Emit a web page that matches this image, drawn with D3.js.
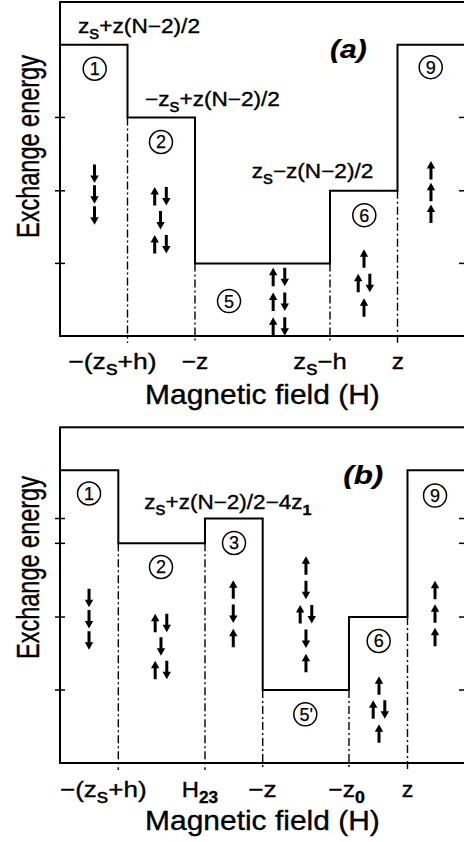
<!DOCTYPE html>
<html><head><meta charset="utf-8">
<script src="https://cdn.jsdelivr.net/npm/d3@7"></script>
<style>html,body{margin:0;padding:0;background:#fff;} svg{display:block;}</style>
</head><body>
<svg id="c" width="464" height="842"></svg>
<script>
// ================= DATA =================
const xDomain = [0, 6];
const yDomain = [0, 4.6];
const xTitle = "Magnetic field (H)";
const yTitle = "Exchange energy";

// Panel (a)
const breaksA = [1, 2, 4, 5];
const levelsA = [4.01, 3.01, 1.0, 2.0, 4.01];
const yTicksA = [1.0, 2.0, 3.01];
const xTickLabelsA = ["−(z_{s}+h)", "−z", "z_{s}−h", "z"];
const regionNamesA = ["1", "2", "5", "6", "9"];
const spinsA = [["d","d","d"], ["ud","d","ud"], ["ud","ud","ud"], ["u","ud","u"], ["u","u","u"]];
const levelLabelsA = ["z_{s}+z(N−2)/2", "−z_{s}+z(N−2)/2", "z_{s}−z(N−2)/2"];
const tagA = "(a)";

// Panel (b)
const breaksB = [0.864, 2.148, 3.003, 4.281, 5.148];
const levelsB = [4.01, 3.01, 3.35, 1.0, 2.0, 4.01];
const yTicksB = [1.0, 2.0, 3.01, 3.35];
const xTickLabelsB = ["−(z_{s}+h)", "H_{23}", "−z", "−z_{0}", "z"];
const regionNamesB = ["1", "2", "3", "5'", "6", "9"];
const spinsB = [["d","d","d"], ["ud","d","ud"], ["u","d","u"], ["u","d","ud","d","u"], ["u","ud","u"], ["u","u","u"]];
const levelLabelsB = ["z_{s}+z(N−2)/2−4z_{1}"];
const tagB = "(b)";

// ================= LAYOUT =================
const FONT = "'Liberation Sans', Arial, Helvetica, sans-serif";
const panels = [
  {
    top: 2, bottom: 336, left: 60, right: 466,
    breaks: breaksA, levels: levelsA, yTicks: yTicksA, xTickLabels: xTickLabelsA,
    regionNames: regionNamesA, spins: spinsA, levelLabels: levelLabelsA, tag: tagA,
    circles: [[0.514,3.681],[1.496,2.672],[2.504,0.481],[4.508,1.664],[5.492,3.703]],
    spinPos: [[0.511,2.235,0.287],[1.489,1.925,0.33],[3.244,0.811,0.34],[4.504,1.066,0.337],[5.496,2.283,0.30]],
    levelLabelBoxes: [[78,200,33],[145,280,106],[251.7,373.3,178.3]],
    tagBox: [330,366.7,57.5],
    xTickBoxes: [[68.3,156.7],[181.7,208.3],[293.3,346.7],[391.7,404]],
    xTickBase: 369, xTitleBox: [145,380,404], yTitleY: 146.5
  },
  {
    top: 427.3, bottom: 763, left: 60, right: 466,
    breaks: breaksB, levels: levelsB, yTicks: yTicksB, xTickLabels: xTickLabelsB,
    regionNames: regionNamesB, spins: spinsB, levelLabels: levelLabelsB, tag: tagB,
    circles: [[0.430,3.693],[1.496,2.686],[2.578,3.015],[3.634,0.667],[4.721,1.672],[5.556,3.665]],
    spinPos: [[0.430,2.261,0.291],[1.496,1.918,0.322],[2.567,2.377,0.332],[3.644,2.706,0.334],[4.726,1.062,0.329],[5.556,2.371,0.322]],
    levelLabelBoxes: [[144.3,311.7,509.3]],
    tagBox: [343.3,383.3,484],
    xTickBoxes: [[60,146.7],[181.7,218.3],[248.3,276.7],[328.3,365],[401.7,413.3]],
    xTickBase: 797, xTitleBox: [145,380,830], yTitleY: 567.5
  }
];

const svg = d3.select("#c");

function richText(g, str, size, opts = {}) {
  const t = g.append("text")
    .attr("font-family", FONT)
    .attr("font-size", size)
    .attr("fill", "#000")
    .attr("stroke", "#000").attr("stroke-width", opts.sw == null ? 0.35 : opts.sw)
    .attr("font-weight", opts.weight || "normal")
    .attr("font-style", opts.style || "normal");
  const re = /_\{([^}]*)\}/g;
  let last = 0, m, shifted = false;
  const shift = size * 0.28;
  while ((m = re.exec(str)) !== null) {
    if (m.index > last) {
      const ts = t.append("tspan").text(str.slice(last, m.index));
      if (shifted) { ts.attr("dy", -shift); shifted = false; }
    }
    const isDigit = /^[0-9]+$/.test(m[1]);
    t.append("tspan").text(m[1])
      .attr("font-size", size * (isDigit ? 0.72 : 0.88))
      .attr("font-weight", isDigit ? "bold" : (opts.weight || "normal"))
      .attr("dy", shifted ? 0 : shift);
    shifted = true;
    last = re.lastIndex;
  }
  if (last < str.length) {
    const ts = t.append("tspan").text(str.slice(last));
    if (shifted) ts.attr("dy", -shift);
  }
  return t;
}

function fitText(parent, str, size, x0, x1, baseline, opts) {
  const g = parent.append("g");
  const t = richText(g, str, size, opts);
  const bb = t.node().getBBox();
  const sx = (x1 - x0) / bb.width;
  g.attr("transform", `translate(${x0 - bb.x * sx},${baseline}) scale(${sx},1)`);
  return g;
}

function arrowPath(cx, cy, dir, L = 18.5, hh = 7.5, hw = 4.2, sw = 1.5) {
  const s = dir === "u" ? 1 : -1;
  const tip = cy - s * L / 2, base = cy + s * L / 2, hb = tip + s * hh;
  return `M${cx},${tip}L${cx+hw},${hb}L${cx+sw},${hb}L${cx+sw},${base}L${cx-sw},${base}L${cx-sw},${hb}L${cx-hw},${hb}Z`;
}

panels.forEach(p => {
  const x = d3.scaleLinear().domain(xDomain).range([p.left, p.left + (p.right - p.left - 1)]);
  const y = d3.scaleLinear().domain(yDomain).range([p.bottom, p.top]);
  const g = svg.append("g");

  g.append("rect").attr("x", p.left).attr("y", p.top)
    .attr("width", p.right - p.left).attr("height", p.bottom - p.top)
    .attr("fill", "none").attr("stroke", "#000").attr("stroke-width", 2);

  g.selectAll(".tl").data(p.yTicks).join("line")
    .attr("x1", p.left - 5).attr("x2", p.left + 5)
    .attr("y1", d => y(d)).attr("y2", d => y(d))
    .attr("stroke", "#000").attr("stroke-width", 1.5);
  g.selectAll(".tr").data(p.yTicks).join("line")
    .attr("x1", p.right - 7).attr("x2", p.right + 4)
    .attr("y1", d => y(d)).attr("y2", d => y(d))
    .attr("stroke", "#000").attr("stroke-width", 1.5);

  const bnds = p.breaks.map((b, i) => ({ b, low: Math.min(p.levels[i], p.levels[i + 1]) }));
  g.selectAll(".dd").data(bnds).join("line")
    .attr("x1", d => x(d.b)).attr("x2", d => x(d.b))
    .attr("y1", d => y(d.low)).attr("y2", p.bottom + 7)
    .attr("stroke", "#000").attr("stroke-width", 1.4)
    .attr("stroke-dasharray", "8,3,2,3");

  const pts = [[xDomain[0], p.levels[0]]];
  p.breaks.forEach((b, i) => pts.push([b, p.levels[i + 1]]));
  pts.push([x.invert(p.right + 2), p.levels[p.levels.length - 1]]);
  g.append("path").datum(pts)
    .attr("d", d3.line().x(d => x(d[0])).y(d => y(d[1])).curve(d3.curveStepAfter))
    .attr("fill", "none").attr("stroke", "#000").attr("stroke-width", 2);

  p.regionNames.forEach((name, i) => {
    const [cx, cy] = p.circles[i];
    g.append("circle").attr("cx", x(cx)).attr("cy", y(cy)).attr("r", 11.5)
      .attr("fill", "none").attr("stroke", "#000").attr("stroke-width", 1.5);
    g.append("text").attr("x", x(cx) + (name.length > 1 ? 1 : 0)).attr("y", y(cy))
      .attr("dy", "0.36em").attr("text-anchor", "middle")
      .attr("font-family", FONT).attr("font-size", 18)
      .attr("stroke", "#000").attr("stroke-width", 0.25).text(name);
  });

  p.spins.forEach((col, i) => {
    const [sx, sy, step] = p.spinPos[i];
    col.forEach((row, r) => {
      const cx = x(sx), cy = y(sy - r * step);
      const dirs = row === "ud" ? [["u", cx - 5.8], ["d", cx + 5.8]] : [[row, cx]];
      dirs.forEach(([dir, ax]) => {
        g.append("path").attr("d", arrowPath(ax, cy, dir)).attr("fill", "#000");
      });
    });
  });

  p.levelLabels.forEach((s, i) => {
    const [a, b, base] = p.levelLabelBoxes[i];
    fitText(g, s, 20, a, b, base);
  });
  fitText(g, p.tag, 25, p.tagBox[0], p.tagBox[1], p.tagBox[2], { weight: "bold", style: "italic", sw: 0.2 });

  p.xTickLabels.forEach((s, i) => {
    const [a, b] = p.xTickBoxes[i];
    fitText(g, s, 22, a, b, p.xTickBase);
  });
  fitText(g, xTitle, 27, p.xTitleBox[0], p.xTitleBox[1], p.xTitleBox[2]);

  g.append("text")
    .attr("transform", `translate(38.5,${p.yTitleY}) rotate(-90) scale(1,1.3)`)
    .attr("text-anchor", "middle")
    .attr("font-family", FONT).attr("font-size", 23.5)
    .attr("stroke", "#000").attr("stroke-width", 0.3)
    .text(yTitle);
});
</script>
</body></html>
